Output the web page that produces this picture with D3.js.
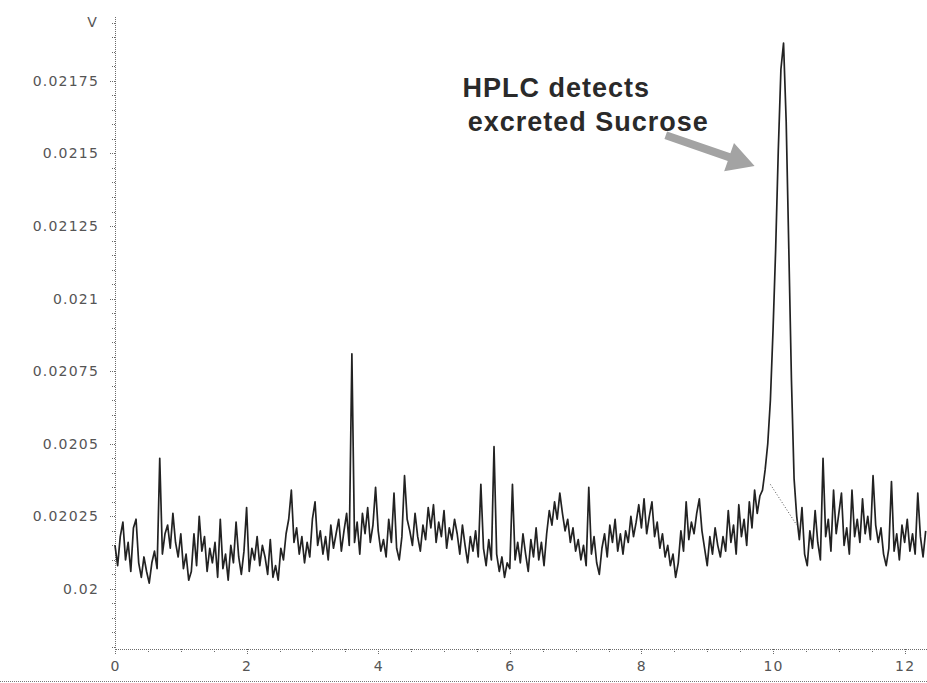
<!DOCTYPE html>
<html>
<head>
<meta charset="utf-8">
<script src="https://cdn.jsdelivr.net/npm/d3@7"></script>
<style>
  html, body { margin: 0; padding: 0; background: #fff; }
  svg { display: block; }
  .axis path, .axis line { stroke: #6a6a6a; stroke-dasharray: 1 1; shape-rendering: crispEdges; }
  .axis text { font-family: "DejaVu Sans", sans-serif; font-size: 14px; fill: #555; letter-spacing: 1.2px; }
  .trace { fill: none; stroke: #222; stroke-width: 1.7; stroke-linejoin: round; }
  .peak-base { stroke: #555; stroke-width: 1; stroke-dasharray: 1 2; }
  .note { font-family: "Liberation Sans", Arial, sans-serif; font-weight: bold; font-size: 27px; fill: #2a2a2a; letter-spacing: 1px; }
  .arrow { fill: #a3a3a3; }
  .unit { font-family: "DejaVu Sans", sans-serif; font-size: 14px; fill: #555; }
</style>
</head>
<body>
<svg class="chromatogram" width="927" height="683"></svg>
<script>
// detector signal (V), one reading every sampleInterval minutes from t = 0
const sampleInterval = 0.04
const signal = [
  0.02015, 0.02008, 0.02018, 0.02023, 0.02010, 0.02016, 0.02006, 0.02021, 0.02024, 0.02009,
  0.02004, 0.02011, 0.02006, 0.02002, 0.02009, 0.02013, 0.02007, 0.02045, 0.02012, 0.02019,
  0.02022, 0.02014, 0.02026, 0.02016, 0.02011, 0.02019, 0.02007, 0.02012, 0.02003, 0.02006,
  0.02019, 0.02008, 0.02025, 0.02013, 0.02018, 0.02006, 0.02014, 0.02009, 0.02016, 0.02004,
  0.02024, 0.02007, 0.02012, 0.02003, 0.02015, 0.02009, 0.02023, 0.02011, 0.02005, 0.02013,
  0.02028, 0.02006, 0.02014, 0.02010, 0.02018, 0.02008, 0.02015, 0.02011, 0.02005, 0.02017,
  0.02004, 0.02008, 0.02003, 0.02014, 0.02010, 0.02019, 0.02024, 0.02034, 0.02016, 0.02021,
  0.02012, 0.02018, 0.02009, 0.02016, 0.02011, 0.02024, 0.02030, 0.02015, 0.02020, 0.02012,
  0.02018, 0.02010, 0.02022, 0.02014, 0.02019, 0.02024, 0.02013, 0.02020, 0.02026, 0.02015,
  0.02081, 0.02016, 0.02023, 0.02012, 0.02026, 0.02019, 0.02028, 0.02016, 0.02022, 0.02035,
  0.02020, 0.02013, 0.02017, 0.02011, 0.02024, 0.02016, 0.02033, 0.02014, 0.02010, 0.02018,
  0.02039, 0.02024, 0.02020, 0.02015, 0.02026, 0.02018, 0.02013, 0.02022, 0.02017, 0.02028,
  0.02021, 0.02029, 0.02016, 0.02023, 0.02018, 0.02027, 0.02014, 0.02021, 0.02017, 0.02024,
  0.02019, 0.02012, 0.02022, 0.02015, 0.02009, 0.02018, 0.02013, 0.02020, 0.02011, 0.02036,
  0.02014, 0.02008, 0.02017, 0.02010, 0.02049, 0.02012, 0.02006, 0.02011, 0.02004, 0.02009,
  0.02007, 0.02036, 0.02010, 0.02016, 0.02009, 0.02019, 0.02012, 0.02006, 0.02017, 0.02011,
  0.02021, 0.02010, 0.02016, 0.02008, 0.02019, 0.02027, 0.02022, 0.02030, 0.02024, 0.02033,
  0.02026, 0.02020, 0.02024, 0.02016, 0.02021, 0.02013, 0.02017, 0.02010, 0.02015, 0.02008,
  0.02035, 0.02012, 0.02018, 0.02009, 0.02005, 0.02014, 0.02019, 0.02011, 0.02022, 0.02016,
  0.02024, 0.02013, 0.02019, 0.02012, 0.02020, 0.02016, 0.02025, 0.02018, 0.02023, 0.02029,
  0.02021, 0.02031, 0.02019, 0.02025, 0.02030, 0.02018, 0.02023, 0.02014, 0.02019, 0.02011,
  0.02015, 0.02008, 0.02012, 0.02004, 0.02009, 0.02020, 0.02013, 0.02030, 0.02017, 0.02023,
  0.02019, 0.02026, 0.02031, 0.02020, 0.02014, 0.02008, 0.02018, 0.02012, 0.02021, 0.02015,
  0.02011, 0.02018, 0.02013, 0.02027, 0.02016, 0.02022, 0.02012, 0.02029, 0.02018, 0.02024,
  0.02015, 0.02030, 0.02021, 0.02034, 0.02026, 0.02032, 0.02034, 0.02041, 0.02050, 0.02065,
  0.02089, 0.02117, 0.02151, 0.02179, 0.02188, 0.02161, 0.02117, 0.02072, 0.02038, 0.02025,
  0.02017, 0.02028, 0.02012, 0.02008, 0.02020, 0.02014, 0.02027, 0.02016, 0.02010, 0.02045,
  0.02018, 0.02024, 0.02013, 0.02034, 0.02019, 0.02026, 0.02033, 0.02015, 0.02021, 0.02012,
  0.02034, 0.02018, 0.02024, 0.02016, 0.02031, 0.02019, 0.02025, 0.02017, 0.02039, 0.02022,
  0.02016, 0.02021, 0.02012, 0.02008, 0.02014, 0.02037, 0.02013, 0.02019, 0.02010, 0.02022,
  0.02016, 0.02024, 0.02013, 0.02019, 0.02012, 0.02033, 0.02018, 0.02011, 0.02020
]

const xTicks = [0, 2, 4, 6, 8, 10, 12]
const xTickLabels = ["0", "2", "4", "6", "8", "10", "12"]
const yTicks = [0.02, 0.02025, 0.0205, 0.02075, 0.021, 0.02125, 0.0215, 0.02175]
const yTickLabels = ["0.02", "0.02025", "0.0205", "0.02075", "0.021", "0.02125", "0.0215", "0.02175"]
const yUnit = "V"

// integration baseline drawn under the sucrose peak: [time, volts]
const peakBaseline = [[9.96, 0.02036], [10.36, 0.02022]]

// annotation, anchored in data units
const noteLines = ["HPLC detects", "excreted Sucrose"]
const noteAnchors = [[5.28, 0.021694], [5.36, 0.021577]]
const arrowFrom = [8.37, 0.021563]
const arrowTo = [9.72, 0.021457]

const svg = d3.select("svg.chromatogram")
const width = 927, height = 683
const plot = { left: 115, right: 927, top: 15, bottom: 649 }

const x = d3.scaleLinear().domain([0, 12.34]).range([plot.left, plot.right])
const y = d3.scaleLinear().domain([0.019793, 0.021977]).range([plot.bottom, plot.top])

const points = signal.map((v, i) => [i * sampleInterval, v])

// y axis: minor ticks first, then labelled ones
svg.append("g")
  .attr("class", "axis")
  .attr("transform", `translate(${plot.left},0)`)
  .call(d3.axisLeft(y)
    .tickValues(d3.range(0.0198, 0.02196, 0.00005))
    .tickSize(3).tickFormat(""))
  .call(g => g.select(".domain").remove())

svg.append("g")
  .attr("class", "axis")
  .attr("transform", `translate(${plot.left},0)`)
  .call(d3.axisLeft(y)
    .tickValues(yTicks)
    .tickFormat((d, i) => yTickLabels[i])
    .tickSize(5).tickSizeOuter(0).tickPadding(11))

// x axis
svg.append("g")
  .attr("class", "axis")
  .attr("transform", `translate(0,${plot.bottom})`)
  .call(d3.axisBottom(x)
    .tickValues(d3.range(0, 12.34, 0.5))
    .tickSize(3).tickFormat(""))
  .call(g => g.select(".domain").remove())

svg.append("g")
  .attr("class", "axis")
  .attr("transform", `translate(0,${plot.bottom})`)
  .call(d3.axisBottom(x)
    .tickValues(xTicks)
    .tickFormat((d, i) => xTickLabels[i])
    .tickSize(5).tickSizeOuter(0).tickPadding(7))

svg.append("text")
  .attr("class", "unit")
  .attr("x", plot.left - 23)
  .attr("y", 27)
  .attr("text-anchor", "middle")
  .text(yUnit)

// bottom border of the scan
svg.append("line")
  .attr("class", "axis-border")
  .attr("x1", 0).attr("x2", width)
  .attr("y1", height - 1.5).attr("y2", height - 1.5)
  .attr("stroke", "#777")
  .attr("stroke-dasharray", "1 1")

// chromatogram trace
svg.append("path")
  .datum(points)
  .attr("class", "trace")
  .attr("d", d3.line().x(d => x(d[0])).y(d => y(d[1])))

svg.append("line")
  .attr("class", "peak-base")
  .attr("x1", x(peakBaseline[0][0])).attr("y1", y(peakBaseline[0][1]))
  .attr("x2", x(peakBaseline[1][0])).attr("y2", y(peakBaseline[1][1]))

// annotation text
svg.selectAll("text.note")
  .data(noteLines)
  .enter()
  .append("text")
  .attr("class", "note")
  .attr("x", (d, i) => x(noteAnchors[i][0]))
  .attr("y", (d, i) => y(noteAnchors[i][1]))
  .text(d => d)

// block arrow pointing at the peak
function arrowPath(from, to, shaft = 4, head = 15, headLen = 27) {
  const dx = to[0] - from[0], dy = to[1] - from[1]
  const len = Math.hypot(dx, dy)
  const ux = dx / len, uy = dy / len
  const nx = -uy, ny = ux
  const bx = to[0] - ux * headLen, by = to[1] - uy * headLen
  const pts = [
    [from[0] + nx * shaft, from[1] + ny * shaft],
    [bx + nx * shaft, by + ny * shaft],
    [bx + nx * head, by + ny * head],
    to,
    [bx - nx * head, by - ny * head],
    [bx - nx * shaft, by - ny * shaft],
    [from[0] - nx * shaft, from[1] - ny * shaft]
  ]
  return "M" + pts.map(p => p.join(",")).join("L") + "Z"
}

svg.append("path")
  .attr("class", "arrow")
  .attr("d", arrowPath([x(arrowFrom[0]), y(arrowFrom[1])], [x(arrowTo[0]), y(arrowTo[1])]))
</script>
</body>
</html>
